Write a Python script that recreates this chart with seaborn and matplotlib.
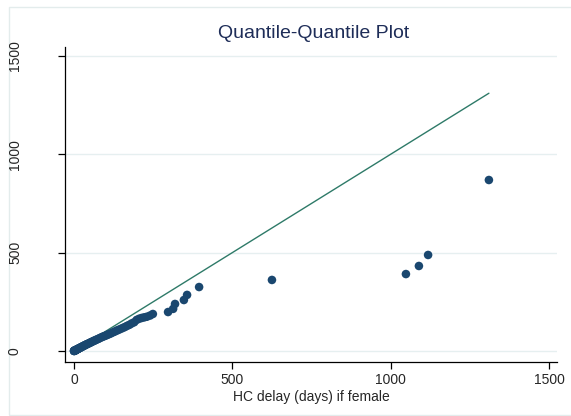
import matplotlib
matplotlib.use("Agg")
import matplotlib.pyplot as plt
import seaborn as sns
import pandas as pd
from matplotlib.patches import Rectangle

# Quantiles
female_q = [0, 0, 1, 1, 2, 2, 3, 3, 4, 5, 5, 6, 7, 8, 9, 10, 11, 12, 14, 15, 16, 18,
            20, 21, 23, 25, 27, 29, 31, 33, 35, 38, 40, 43, 46, 49, 52, 55, 58, 62,
            65, 69, 73, 77, 81, 86, 90, 95, 100, 105, 110, 116, 122, 128, 134, 140,
            147, 154, 161, 168, 175, 182, 190, 198, 206, 214, 222, 230, 240, 249,
            297, 313, 319, 347, 357, 395, 625, 1048, 1089, 1118, 1310]
male_q = [0, 1, 0, 1, 1, 2, 2, 3, 3, 4, 4, 5, 6, 7, 8, 8, 9, 10, 12, 13, 14, 15,
          17, 18, 20, 21, 23, 25, 26, 28, 30, 32, 34, 36, 38, 41, 43, 45, 48, 51,
          53, 56, 59, 62, 65, 69, 72, 75, 78, 82, 85, 89, 94, 98, 103, 107,
          112, 117, 122, 128, 133, 140, 146, 158, 164, 168, 171, 174, 180, 188,
          198, 214, 239, 259, 285, 325, 361, 391, 432, 488, 869]
ref_x = [0, 1310]
ref_y = [0, 1310]

x_ticks = [0, 500, 1000, 1500]
y_ticks = [0, 500, 1000, 1500]
title = "Quantile-Quantile Plot"
x_label = "HC delay (days) if female"

df = pd.DataFrame({"female": female_q, "male": male_q})
ref = pd.DataFrame({"x": ref_x, "y": ref_y})

sns.set_theme(style="white")
plt.rcParams["font.family"] = ["Liberation Sans", "DejaVu Sans"]

W, H = 571, 416
fig = plt.figure(figsize=(W / 100, H / 100), dpi=100)
fig.patch.set_facecolor("white")

ax_l, ax_r, ax_b, ax_t = 65, 557, 362, 47
ax = fig.add_axes([ax_l / W, 1 - ax_b / H, (ax_r - ax_l) / W, (ax_b - ax_t) / H])

for t in y_ticks:
    ax.axhline(t, color="#e6eff0", lw=1.0, zorder=0)

sns.lineplot(data=ref, x="x", y="y", ax=ax, color="#2e7a68", lw=1.0, zorder=2)
sns.scatterplot(data=df, x="female", y="male", ax=ax, color="#1a476f", s=38,
                edgecolor="none", zorder=3)

ax.set_xlim(-28.4, 1525)
ax.set_ylim(-56, 1545)
ax.set_xticks(x_ticks)
ax.set_yticks(y_ticks)
ax.set_xticklabels([str(v) for v in x_ticks], fontsize=10)
ax.set_yticklabels([str(v) for v in y_ticks], fontsize=10, rotation=90, va="center")
ax.tick_params(axis="both", direction="out", length=5, width=0.9, color="black",
               bottom=True, left=True)
ax.tick_params(axis="x", pad=3)
ax.tick_params(axis="y", pad=26)
for s in ["top", "right"]:
    ax.spines[s].set_visible(False)
for s in ["left", "bottom"]:
    ax.spines[s].set_color("black")
    ax.spines[s].set_linewidth(0.9)
ax.set_xlabel(x_label, fontsize=10, labelpad=2)
ax.set_ylabel("")

fig.text(314 / W, 1 - 33 / H, title, ha="center", va="center", fontsize=14,
         color="#1e2d58")

fig.patches.append(Rectangle((9 / W, 1 / H), 1.2, 1 - 8 / H, transform=fig.transFigure,
                             fill=False, edgecolor="#e3ecec", lw=1.0, zorder=-1))

fig.savefig("out.png", dpi=100)
